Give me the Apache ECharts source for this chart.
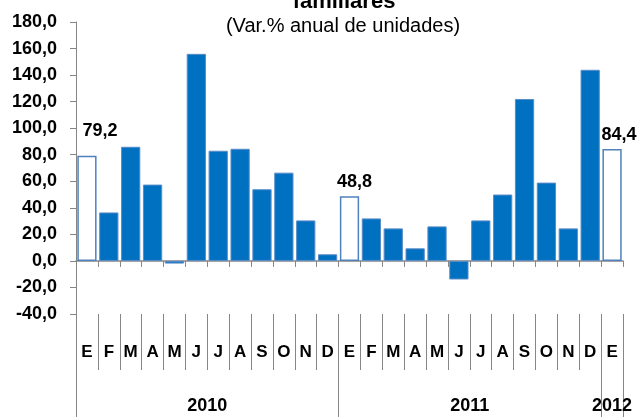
<!DOCTYPE html>
<html>
<head>
<meta charset="utf-8">
<script src="https://cdn.jsdelivr.net/npm/echarts@6/dist/echarts.min.js"></script>
<style>html,body{margin:0;padding:0;background:#fff;}#c{width:638px;height:417px;}</style>
</head>
<body>
<div id="c"></div>
<script>
var titleText = 'familiares';
var subtitleText = '(Var.% anual de unidades)';
var months = ['E','F','M','A','M','J','J','A','S','O','N','D','E','F','M','A','M','J','J','A','S','O','N','D','E'];
var years = ['2010','2011','2012'];
var monthsPerYear = [12, 12, 1];
var values = [79.2, 36.5, 86, 57.5, -2, 156, 83, 84.5, 54, 66.5, 30.5, 5,
              48.8, 32, 24.5, 9.5, 26, -14, 30.5, 50, 122, 59, 24.5, 144,
              84.4];
var yTicks = [-40, -20, 0, 20, 40, 60, 80, 100, 120, 140, 160, 180];

var AX = '#868686';
var sans = "'Liberation Sans', Arial, sans-serif";

// year boundaries / midpoints derived from month counts
var yearBounds = [0], yearMids = [];
monthsPerYear.forEach(function (n, i) {
  var s = yearBounds[yearBounds.length - 1];
  yearMids.push(s + n / 2);
  yearBounds.push(s + n);
});

var labelOffsets = { 0: [13, -11], 12: [5, 0], 24: [7, 0] };

var barData = values.map(function (v, i) {
  if (months[i] === 'E') {
    return {
      value: v,
      itemStyle: { color: '#ffffff', borderColor: '#4F81BD', borderWidth: 1.5 },
      label: {
        show: true, position: 'top', distance: 5,
        offset: labelOffsets[i] || [0, 0],
        formatter: function (p) { return p.value.toFixed(1).replace('.', ','); },
        color: '#000', fontWeight: 'bold', fontSize: 18, fontFamily: sans
      }
    };
  }
  return v;
});

var chart = echarts.init(document.getElementById('c'), null, { renderer: 'canvas' });
chart.setOption({
  animation: false,
  backgroundColor: '#ffffff',
  title: [
    { text: titleText, left: 339, top: -14, textAlign: 'center',
      textStyle: { fontSize: 22, fontWeight: 'bold', color: '#000', fontFamily: sans } },
    { text: subtitleText, left: 338, top: 11, textAlign: 'center',
      textStyle: { fontSize: 20, fontWeight: 'normal', color: '#000', fontFamily: sans } }
  ],
  grid: { left: 76, right: 15, top: 22, bottom: 103, containLabel: false },
  yAxis: {
    type: 'value', min: -40, max: 180, interval: 20,
    axisLine: { show: true, lineStyle: { color: AX, width: 1 } },
    axisTick: { show: true, length: 6, lineStyle: { color: AX } },
    splitLine: { show: false },
    axisLabel: {
      margin: 19, color: '#000', fontWeight: 'bold', fontSize: 18, fontFamily: sans,
      customValues: yTicks,
      formatter: function (v) { return v.toFixed(1).replace('.', ','); }
    }
  },
  xAxis: [
    { // zero line
      type: 'category', data: months, position: 'bottom',
      axisLine: { show: true, onZero: true, lineStyle: { color: AX, width: 1.5 } },
      axisTick: { show: true, length: 6, interval: 0, lineStyle: { color: AX } },
      axisLabel: { show: false }
    },
    { // month labels
      type: 'category', data: months, position: 'bottom',
      axisLine: { show: false, onZero: false },
      axisTick: { show: true, length: 56, interval: 0, lineStyle: { color: AX } },
      axisLabel: { show: true, interval: 0, margin: 30, color: '#000', fontWeight: 'bold',
        fontSize: 17, fontFamily: sans }
    },
    { // year labels
      type: 'value', min: 0, max: months.length, position: 'bottom',
      axisLine: { show: false, onZero: false },
      splitLine: { show: false },
      axisTick: { show: true, length: 103, customValues: yearBounds, lineStyle: { color: AX } },
      axisLabel: { show: true, margin: 83, customValues: yearMids, color: '#000',
        fontWeight: 'bold', fontSize: 18, fontFamily: sans,
        formatter: function (v) { return years[yearMids.indexOf(v)] || ''; } }
    }
  ],
  series: [{
    type: 'bar', xAxisIndex: 0, data: barData, barCategoryGap: '12%',
    itemStyle: { color: '#0070C0', borderColor: '#5A8CC8', borderWidth: 1 }
  }]
});
</script>
</body>
</html>
